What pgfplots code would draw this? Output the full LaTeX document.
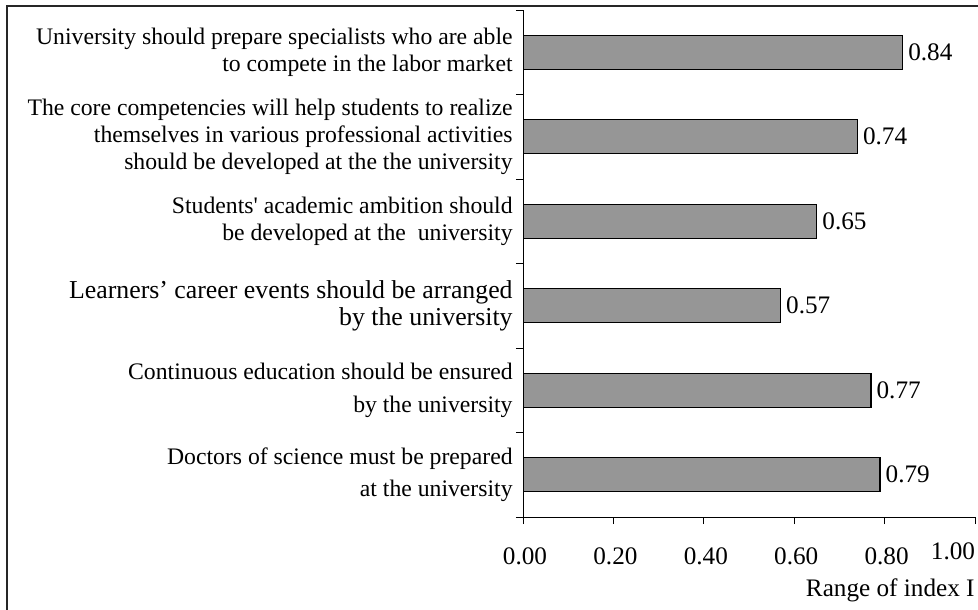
\documentclass[border=0pt]{standalone}
\usepackage{fontspec}
\setmainfont{Liberation Serif}
\usepackage{pgfplots}
\pgfplotsset{compat=1.18}
\definecolor{barfill}{RGB}{150,150,150}
\begin{document}
\begin{tikzpicture}
\path[use as bounding box] (0,0) rectangle (489bp,305bp);
\draw[line width=0.6bp, black!85] (3.5bp,-20bp) rectangle (520bp,302bp);
\begin{axis}[
  scale only axis, width=226bp, height=253.5bp,
  at={(261.5bp,46.5bp)}, anchor=south west,
  xbar, bar width=0.4,
  xmin=0, xmax=1, ymin=0, ymax=6,
  axis x line*=bottom, axis y line*=left,
  axis line style={line width=0.5bp, -},
  every tick/.style={line width=0.5bp, black},
  tick align=outside, major tick length=3.5bp,
  /pgf/number format/fixed, /pgf/number format/fixed zerofill,
  /pgf/number format/precision=2, /pgf/number format/assume math mode=true,
  xtick={0,0.2,0.4,0.6,0.8},
  xticklabel style={font=\fontsize{12.6bp}{14bp}\selectfont, anchor=north, inner sep=0pt, yshift=-11.5bp, xshift=1bp},
  ytick={0,1,2,3,4,5,6}, yticklabels={,,,,,,},
  extra x ticks={1}, extra x tick labels={1.00},
  extra x tick style={xticklabel style={xshift=-12bp, yshift=2.5bp}},
  extra y ticks={0.5,1.5,2.5,3.5,4.5,5.5},
  extra y tick labels={
    {Doctors of science must be prepared\\[2.5bp]at the university},
    {Continuous education should be ensured\\[3bp]by the university},
    {\fontsize{12.9bp}{15bp}\selectfont Learners’ career events should be arranged\\\fontsize{12.9bp}{15bp}\selectfont by the university},
    {Students\textquotesingle\ academic ambition should\\be developed at the\ \ university},
    {The core competencies will help students to realize\\themselves in various professional activities\\should be developed at the the university},
    {University should prepare specialists who are able\\to compete in the labor market}},
  extra y tick style={major tick length=0pt,
    yticklabel style={font=\fontsize{11.85bp}{13.6bp}\selectfont, align=right, anchor=east, inner sep=0pt, xshift=-5bp}},
  xlabel={Range of index I},
  xlabel style={at={(axis description cs:1,0)}, anchor=base east, inner sep=0pt,
    yshift=-39.5bp, font=\fontsize{12.6bp}{15bp}\selectfont},
  nodes near coords,
  every node near coord/.append style={font=\fontsize{12.6bp}{14bp}\selectfont, anchor=west, inner sep=0pt, xshift=2.5bp},
]
\addplot[fill=barfill, draw=black, line width=0.6bp] coordinates {
  (0.79,0.5) (0.77,1.5) (0.57,2.5) (0.65,3.5) (0.74,4.5) (0.84,5.5)};
\end{axis}
\end{tikzpicture}
\end{document}
